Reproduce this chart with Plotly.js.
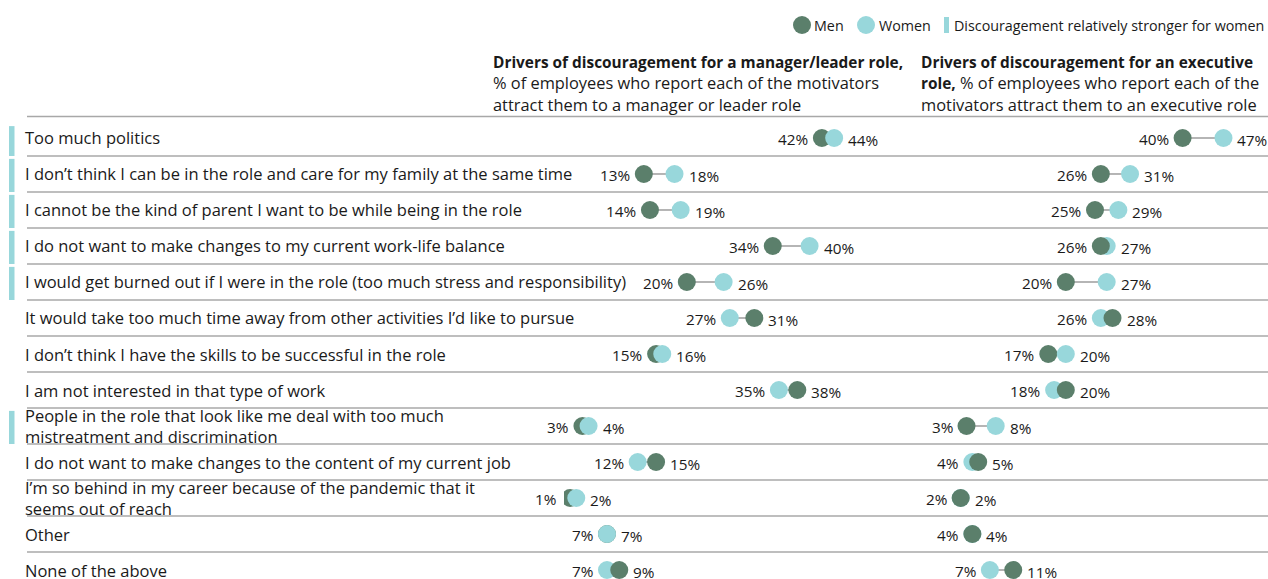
<!DOCTYPE html>
<html>
<head>
<meta charset="utf-8">
<script src="https://cdn.plot.ly/plotly-3.0.1.min.js"></script>
<style>html,body{margin:0;padding:0;background:#fff;}#chart{width:1268px;height:579px;}</style>
</head>
<body>
<div id="chart"></div>
<script>
// ---- data ----
const categories = [
  "Too much politics",
  "I don\u2019t think I can be in the role and care for my family at the same time",
  "I cannot be the kind of parent I want to be while being in the role",
  "I do not want to make changes to my current work-life balance",
  "I would get burned out if I were in the role (too much stress and responsibility)",
  "It would take too much time away from other activities I\u2019d like to pursue",
  "I don\u2019t think I have the skills to be successful in the role",
  "I am not interested in that type of work",
  "People in the role that look like me deal with too much<br>mistreatment and discrimination",
  "I do not want to make changes to the content of my current job",
  "I\u2019m so behind in my career because of the pandemic that it<br>seems out of reach",
  "Other",
  "None of the above"
];
const managerMen   = [42, 13, 14, 34, 20, 31, 15, 38, 3, 15, 1, 7, 9];
const managerWomen = [44, 18, 19, 40, 26, 27, 16, 35, 4, 12, 2, 7, 7];
const execMen      = [40, 26, 25, 26, 20, 28, 17, 20, 3, 5, 2, 4, 11];
const execWomen    = [47, 31, 29, 27, 27, 26, 20, 18, 8, 4, 2, 4, 7];
const strongerForWomen = [1, 1, 1, 1, 1, 0, 0, 0, 1, 0, 0, 0, 0];

const headerLeftBold = ["Drivers of discouragement for a manager/leader role,"];
const headerLeftRest = ["% of employees who report each of the motivators", "attract them to a manager or leader role"];
const headerRightBold = ["Drivers of discouragement for an executive", "role,"];
const headerRightRest = [" % of employees who report each of the", "motivators attract them to an executive role"];
const legendLabels = ["Men", "Women", "Discouragement relatively stronger for women"];

// ---- style ----
const W = 1268, H = 579;
const MEN = "#5b7f6b", WOMEN = "#98d7db", LINE = "#9c9c9c", TXT = "#1a1a1a", SEP = "#a8a8a8";
const FONT = "Open Sans, sans-serif";
const px = x => x / W, py = y => 1 - y / H;
const bold = t => '<span style="font-size:15.4px"><b>' + t + '</b></span>';

const traces = [];
const annotations = [];
const shapes = [];

function panel(men, women, xa, rule) {
  const lx = [], ly = [];
  const bot = {x: [], y: [], c: []}, top = {x: [], y: [], c: []};
  men.forEach((m, i) => {
    const w = women[i];
    lx.push(m, w, null); ly.push(i, i, null);
    if (rule(m, w)) {
      bot.x.push(m); bot.y.push(i); bot.c.push(MEN);
      top.x.push(w); top.y.push(i); top.c.push(WOMEN);
    } else {
      bot.x.push(w); bot.y.push(i); bot.c.push(WOMEN);
      top.x.push(m); top.y.push(i); top.c.push(MEN);
    }
    const lo = Math.min(m, w), hi = Math.max(m, w);
    annotations.push({xref: xa, yref: 'y', x: lo, y: i, text: lo + '%', showarrow: false,
      xanchor: 'right', xshift: -12, yshift: -1, font: {family: FONT, size: 15.3, color: TXT}});
    annotations.push({xref: xa, yref: 'y', x: hi, y: i, text: hi + '%', showarrow: false,
      xanchor: 'left', xshift: 12, yshift: -2, font: {family: FONT, size: 15.3, color: TXT}});
  });
  const ax = xa === 'x' ? 'x' : 'x2';
  traces.push({type: 'scatter', mode: 'lines', x: lx, y: ly, xaxis: ax, yaxis: 'y',
    line: {color: LINE, width: 1.5}, hoverinfo: 'skip', showlegend: false});
  [bot, top].forEach(t => traces.push({type: 'scatter', mode: 'markers', x: t.x, y: t.y,
    xaxis: ax, yaxis: 'y', marker: {size: 18, color: t.c, line: {width: 0}},
    hoverinfo: 'skip', showlegend: false}));
}

// left panel: higher value drawn on top, ties -> women
panel(managerMen, managerWomen, 'x', (m, w) => w >= m);
// right panel: men on top unless women clearly higher
panel(execMen, execWomen, 'x2', (m, w) => w - m >= 3);

// row labels, separators, highlight bars
categories.forEach((c, i) => {
  annotations.push({xref: 'paper', yref: 'y', x: px(23), y: i, text: c, showarrow: false,
    xanchor: 'left', align: 'left', font: {family: FONT, size: 16.5, color: TXT}});
  if (i < categories.length - 1) {
    shapes.push({type: 'line', xref: 'paper', yref: 'y', x0: px(27), x1: 1, y0: i + 0.5, y1: i + 0.5,
      line: {color: SEP, width: 1.5}});
  }
  if (strongerForWomen[i]) {
    shapes.push({type: 'rect', xref: 'paper', yref: 'y', x0: px(9), x1: px(14.5),
      y0: i - (i === 0 ? 0.33 : 0.42), y1: i + 0.5, line: {width: 0}, fillcolor: WOMEN});
  }
});
shapes.push({type: 'line', xref: 'paper', yref: 'y', x0: px(27), x1: 1, y0: -0.6, y1: -0.6,
  line: {color: SEP, width: 1.5}});

// headers
const headerLeft = bold(headerLeftBold[0]) + '<br>' + headerLeftRest.join('<br>');
const headerRight = bold(headerRightBold[0]) + '<br>' + bold(headerRightBold[1]) + headerRightRest.join('<br>');
annotations.push({xref: 'paper', yref: 'paper', x: px(491), y: py(50), xanchor: 'left', yanchor: 'top',
  align: 'left', text: headerLeft, showarrow: false, font: {family: FONT, size: 16.4, color: TXT}});
annotations.push({xref: 'paper', yref: 'paper', x: px(919), y: py(50), xanchor: 'left', yanchor: 'top',
  align: 'left', text: headerRight, showarrow: false, font: {family: FONT, size: 16.4, color: TXT}});

// legend
shapes.push({type: 'circle', xref: 'paper', yref: 'paper', x0: px(793), x1: px(811), y0: py(34), y1: py(16),
  fillcolor: MEN, line: {width: 0}});
shapes.push({type: 'circle', xref: 'paper', yref: 'paper', x0: px(857), x1: px(875), y0: py(34), y1: py(16),
  fillcolor: WOMEN, line: {width: 0}});
shapes.push({type: 'rect', xref: 'paper', yref: 'paper', x0: px(944), x1: px(949), y0: py(33), y1: py(17),
  fillcolor: WOMEN, line: {width: 0}});
[[812, legendLabels[0]], [877, legendLabels[1]], [952, legendLabels[2]]].forEach(([x, t]) =>
  annotations.push({xref: 'paper', yref: 'paper', x: px(x), y: py(25), xanchor: 'left', yanchor: 'middle',
    text: t, showarrow: false, font: {family: FONT, size: 14.3, color: TXT}}));

const layout = {
  width: W, height: H, autosize: false,
  margin: {l: 0, r: 0, t: 0, b: 0, pad: 0},
  paper_bgcolor: '#fff', plot_bgcolor: '#fff',
  showlegend: false,
  xaxis: {domain: [px(564), px(871)], range: [0, 50], visible: false, fixedrange: true},
  xaxis2: {domain: [px(949), px(1241)], range: [0, 50], visible: false, fixedrange: true, anchor: 'y'},
  yaxis: {domain: [0, 1], range: [12.25, -3.833], visible: false, fixedrange: true},
  shapes: shapes,
  annotations: annotations
};
Plotly.newPlot('chart', traces, layout, {displayModeBar: false, staticPlot: true});
</script>
</body>
</html>
